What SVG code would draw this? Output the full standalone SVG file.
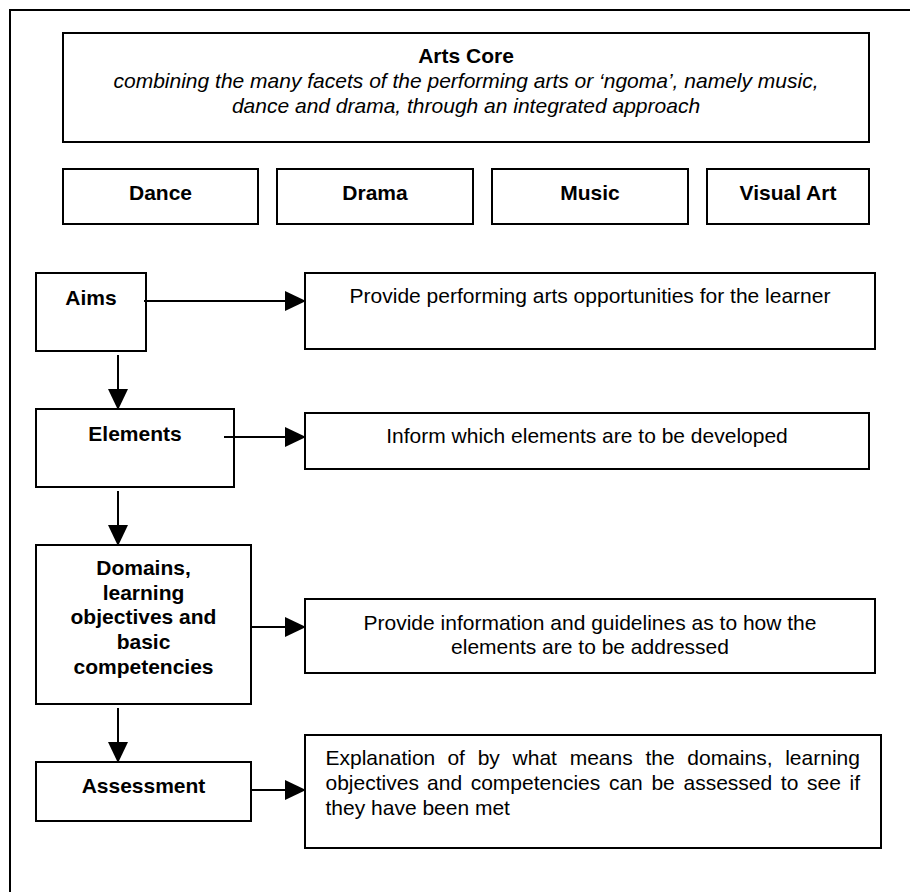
<svg xmlns="http://www.w3.org/2000/svg" width="910" height="892" viewBox="0 0 910 892">
  <style>
    .box { fill: #ffffff; stroke: #000000; stroke-width: 2; }
    .frame { fill: none; stroke: #000000; stroke-width: 2; }
    .link { stroke: #000000; stroke-width: 2; fill: none; marker-end: url(#head); }
    text { font-family: "Liberation Sans", Arial, sans-serif; font-size: 21px; fill: #000000; }
    .b { font-weight: bold; }
    .i { font-style: italic; }
    .c { text-anchor: middle; }
  </style>
  <defs>
    <marker id="head" markerUnits="userSpaceOnUse" markerWidth="21" markerHeight="20" refX="20" refY="10" orient="auto" viewBox="0 0 21 20">
      <path d="M0,0 L21,10 L0,20 Z" fill="#000000"/>
    </marker>
  </defs>
  <rect width="910" height="892" fill="#ffffff"/>

  <!-- page frame -->
  <rect class="frame" x="10" y="10" width="1000" height="1000"/>

  <g id="arts-core">
    <rect class="box" x="63" y="33" width="806" height="109"/>
    <text class="b c" x="466" y="63">Arts Core</text>
    <text class="i c" x="466" y="88">combining the many facets of the performing arts or ‘ngoma’, namely music,</text>
    <text class="i c" x="466" y="113">dance and drama, through an integrated approach</text>
  </g>

  <g id="dance">
    <rect class="box" x="63" y="169" width="195" height="55"/>
    <text class="b c" x="160.5" y="200">Dance</text>
  </g>
  <g id="drama">
    <rect class="box" x="277" y="169" width="196" height="55"/>
    <text class="b c" x="375" y="200">Drama</text>
  </g>
  <g id="music">
    <rect class="box" x="492" y="169" width="196" height="55"/>
    <text class="b c" x="590" y="200">Music</text>
  </g>
  <g id="visual-art">
    <rect class="box" x="707" y="169" width="162" height="55"/>
    <text class="b c" x="788" y="200">Visual Art</text>
  </g>

  <g id="aims">
    <rect class="box" x="36" y="273" width="110" height="78"/>
    <text class="b c" x="91" y="305">Aims</text>
  </g>
  <g id="aims-desc">
    <rect class="box" x="305" y="273" width="570" height="76"/>
    <text class="c" x="590" y="303">Provide performing arts opportunities for the learner</text>
  </g>

  <g id="elements">
    <rect class="box" x="36" y="409" width="198" height="78"/>
    <text class="b c" x="135" y="441">Elements</text>
  </g>
  <g id="elements-desc">
    <rect class="box" x="305" y="413" width="564" height="56"/>
    <text class="c" x="587" y="443">Inform which elements are to be developed</text>
  </g>

  <g id="domains">
    <rect class="box" x="36" y="545" width="215" height="159"/>
    <text class="b c" x="143.5" y="575">Domains,</text>
    <text class="b c" x="143.5" y="600">learning</text>
    <text class="b c" x="143.5" y="624">objectives and</text>
    <text class="b c" x="143.5" y="649">basic</text>
    <text class="b c" x="143.5" y="674">competencies</text>
  </g>
  <g id="domains-desc">
    <rect class="box" x="305" y="599" width="570" height="74"/>
    <text class="c" x="590" y="630">Provide information and guidelines as to how the</text>
    <text class="c" x="590" y="654">elements are to be addressed</text>
  </g>

  <g id="assessment">
    <rect class="box" x="36" y="762" width="215" height="59"/>
    <text class="b c" x="143.5" y="793">Assessment</text>
  </g>
  <g id="assessment-desc">
    <rect class="box" x="305" y="735" width="576" height="113"/>
    <!-- justified paragraph: words placed individually -->
    <text y="765"><tspan x="325.5">Explanation</tspan><tspan x="447.4">of</tspan><tspan x="477.7">by</tspan><tspan x="512.6">what</tspan><tspan x="569.7">means</tspan><tspan x="645.4">the</tspan><tspan x="687.3">domains,</tspan><tspan x="785.2">learning</tspan></text>
    <text y="790"><tspan x="325.5">objectives</tspan><tspan x="427.1">and</tspan><tspan x="470.7">competencies</tspan><tspan x="608.9">can</tspan><tspan x="651.4">be</tspan><tspan x="683.5">assessed</tspan><tspan x="780.8">to</tspan><tspan x="807">see</tspan><tspan x="849.5">if</tspan></text>
    <text x="325.5" y="815">they have been met</text>
  </g>

  <g id="connectors">
    <line class="link" x1="144" y1="301" x2="305" y2="301"/>
    <line class="link" x1="224" y1="437" x2="305" y2="437"/>
    <line class="link" x1="251" y1="627" x2="305" y2="627"/>
    <line class="link" x1="251" y1="790" x2="305" y2="790"/>
    <line class="link" x1="118" y1="355" x2="118" y2="409"/>
    <line class="link" x1="118" y1="491" x2="118" y2="545"/>
    <line class="link" x1="118" y1="708" x2="118" y2="762"/>
  </g>
</svg>
